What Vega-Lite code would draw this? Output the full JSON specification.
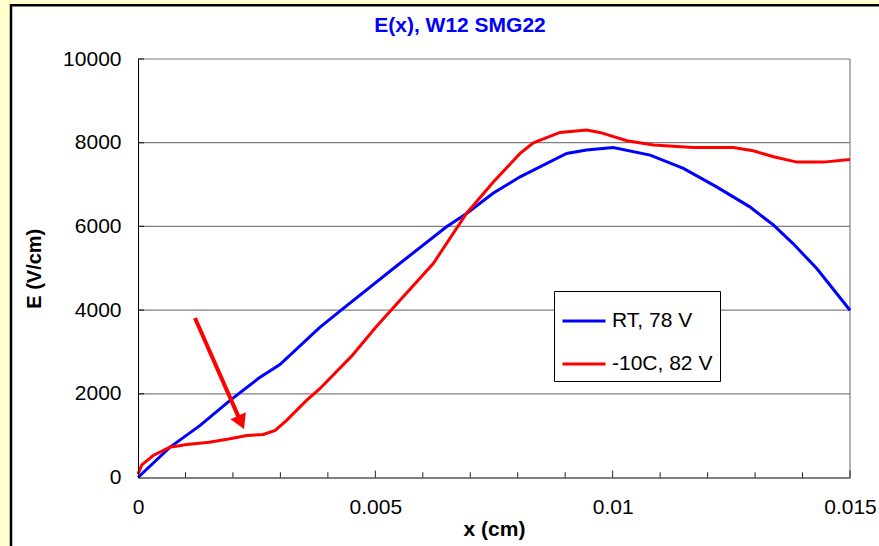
{
  "$schema": "https://vega.github.io/schema/vega-lite/v6.json",
  "width": 712,
  "height": 418.5,
  "autosize": {"type": "none"},
  "padding": {"left": 138, "top": 59, "right": 29, "bottom": 68.5},
  "background": "#FFFFCC",
  "title": {
    "text": "E(x), W12 SMG22",
    "color": "#0000FF",
    "font": "Liberation Sans",
    "fontSize": 21,
    "fontWeight": "bold",
    "anchor": "middle",
    "frame": "group",
    "dx": -34,
    "offset": -32
  },
  "config": {
    "view": {"stroke": null},
    "font": "Liberation Sans",
    "axis": {
      "labelFont": "Liberation Sans",
      "labelFontSize": 21,
      "labelColor": "black",
      "titleFont": "Liberation Sans",
      "titleFontWeight": "bold",
      "titleColor": "black",
      "domainColor": "black",
      "domainWidth": 1,
      "grid": false,
      "ticks": false,
      "labelOverlap": false
    },
    "axisX": {"labelPadding": 19, "titlePadding": 1, "titleFontSize": 21, "labelFlush": false},
    "axisY": {"labelPadding": 17, "titlePadding": 18, "titleFontSize": 20}
  },
  "layer": [
    {
      "description": "chart frame: white panel with black border",
      "data": {"values": [{}]},
      "mark": {"type": "rect", "fill": "white", "stroke": "black", "strokeWidth": 2.5},
      "encoding": {
        "x": {"datum": -0.0026755, "type": "quantitative", "scale": {"domain": [0, 0.015], "nice": false, "zero": false}, "axis": {"zindex": 1}},
        "x2": {"datum": 0.02},
        "y": {"datum": 11283, "type": "quantitative", "scale": {"domain": [0, 10000], "nice": false}, "axis": {"zindex": 1}},
        "y2": {"datum": -3000}
      }
    },
    {
      "description": "horizontal gridlines",
      "data": {"values": [{"E": 2000}, {"E": 4000}, {"E": 6000}, {"E": 8000}, {"E": 10000}]},
      "mark": {"type": "rule", "color": "#808080", "strokeWidth": 1.2},
      "encoding": {
        "y": {"field": "E", "type": "quantitative", "title": "E (V/cm)", "axis": {"zindex": 1}}
      }
    },
    {
      "description": "right edge of the plot area",
      "data": {"values": [{}]},
      "mark": {"type": "rule", "color": "#808080", "strokeWidth": 1.2},
      "encoding": {
        "x": {"datum": 0.015, "type": "quantitative", "axis": {"zindex": 1}},
        "y": {"datum": 0, "type": "quantitative", "axis": {"zindex": 1}},
        "y2": {"datum": 10000}
      }
    },
    {
      "description": "minor x ticks, pointing into the plot",
      "data": {"values": [{"x": 0.001}, {"x": 0.002}, {"x": 0.003}, {"x": 0.004}, {"x": 0.006}, {"x": 0.007}, {"x": 0.008}, {"x": 0.009}, {"x": 0.011}, {"x": 0.012}, {"x": 0.013}, {"x": 0.014}]},
      "mark": {"type": "rule", "color": "#222222", "strokeWidth": 1},
      "encoding": {
        "x": {"field": "x", "type": "quantitative", "title": "x (cm)", "axis": {"zindex": 1}},
        "y": {"datum": 0, "type": "quantitative"},
        "y2": {"datum": 125}
      }
    },
    {
      "description": "major x ticks, pointing into the plot",
      "data": {"values": [{"x": 0.005}, {"x": 0.01}, {"x": 0.015}]},
      "mark": {"type": "rule", "color": "#222222", "strokeWidth": 1},
      "encoding": {
        "x": {"field": "x", "type": "quantitative", "title": "x (cm)", "axis": {"zindex": 1}},
        "y": {"datum": 0, "type": "quantitative"},
        "y2": {"datum": 165}
      }
    },
    {
      "description": "y ticks, pointing into the plot",
      "data": {"values": [{"E": 2000}, {"E": 4000}, {"E": 6000}, {"E": 8000}, {"E": 10000}]},
      "mark": {"type": "rule", "color": "#222222", "strokeWidth": 1.2},
      "encoding": {
        "y": {"field": "E", "type": "quantitative", "title": "E (V/cm)", "axis": {"zindex": 1}},
        "x": {"datum": 0, "type": "quantitative"},
        "x2": {"datum": 0.00013}
      }
    },
    {
      "description": "field profiles",
      "data": {
        "values": [
          {"series": "RT, 78 V", "x": 0, "E": 0},
          {"series": "RT, 78 V", "x": 0.00067, "E": 720},
          {"series": "RT, 78 V", "x": 0.00131, "E": 1244},
          {"series": "RT, 78 V", "x": 0.00194, "E": 1842},
          {"series": "RT, 78 V", "x": 0.00254, "E": 2370},
          {"series": "RT, 78 V", "x": 0.00299, "E": 2700},
          {"series": "RT, 78 V", "x": 0.00383, "E": 3589},
          {"series": "RT, 78 V", "x": 0.00428, "E": 4000},
          {"series": "RT, 78 V", "x": 0.00552, "E": 5120},
          {"series": "RT, 78 V", "x": 0.0065, "E": 5990},
          {"series": "RT, 78 V", "x": 0.00693, "E": 6316},
          {"series": "RT, 78 V", "x": 0.00748, "E": 6790},
          {"series": "RT, 78 V", "x": 0.00805, "E": 7185},
          {"series": "RT, 78 V", "x": 0.00903, "E": 7743},
          {"series": "RT, 78 V", "x": 0.00945, "E": 7823},
          {"series": "RT, 78 V", "x": 0.01001, "E": 7887},
          {"series": "RT, 78 V", "x": 0.01079, "E": 7703},
          {"series": "RT, 78 V", "x": 0.01149, "E": 7385},
          {"series": "RT, 78 V", "x": 0.01219, "E": 6945},
          {"series": "RT, 78 V", "x": 0.01289, "E": 6467},
          {"series": "RT, 78 V", "x": 0.01339, "E": 6029},
          {"series": "RT, 78 V", "x": 0.0138, "E": 5590},
          {"series": "RT, 78 V", "x": 0.0143, "E": 4992},
          {"series": "RT, 78 V", "x": 0.015, "E": 3995},
          {"series": "-10C, 82 V", "x": 0, "E": 80},
          {"series": "-10C, 82 V", "x": 0.00008, "E": 300},
          {"series": "-10C, 82 V", "x": 0.00032, "E": 526},
          {"series": "-10C, 82 V", "x": 0.00067, "E": 725},
          {"series": "-10C, 82 V", "x": 0.00103, "E": 790},
          {"series": "-10C, 82 V", "x": 0.0015, "E": 840},
          {"series": "-10C, 82 V", "x": 0.00194, "E": 925},
          {"series": "-10C, 82 V", "x": 0.00229, "E": 1005},
          {"series": "-10C, 82 V", "x": 0.00264, "E": 1029},
          {"series": "-10C, 82 V", "x": 0.00289, "E": 1124},
          {"series": "-10C, 82 V", "x": 0.00313, "E": 1364},
          {"series": "-10C, 82 V", "x": 0.00355, "E": 1842},
          {"series": "-10C, 82 V", "x": 0.00383, "E": 2121},
          {"series": "-10C, 82 V", "x": 0.0045, "E": 2900},
          {"series": "-10C, 82 V", "x": 0.005, "E": 3580},
          {"series": "-10C, 82 V", "x": 0.00552, "E": 4234},
          {"series": "-10C, 82 V", "x": 0.00622, "E": 5112},
          {"series": "-10C, 82 V", "x": 0.00692, "E": 6308},
          {"series": "-10C, 82 V", "x": 0.00749, "E": 7066},
          {"series": "-10C, 82 V", "x": 0.00805, "E": 7743},
          {"series": "-10C, 82 V", "x": 0.00833, "E": 7998},
          {"series": "-10C, 82 V", "x": 0.00889, "E": 8246},
          {"series": "-10C, 82 V", "x": 0.00945, "E": 8301},
          {"series": "-10C, 82 V", "x": 0.00973, "E": 8246},
          {"series": "-10C, 82 V", "x": 0.0103, "E": 8046},
          {"series": "-10C, 82 V", "x": 0.01086, "E": 7943},
          {"series": "-10C, 82 V", "x": 0.0117, "E": 7887},
          {"series": "-10C, 82 V", "x": 0.01254, "E": 7887},
          {"series": "-10C, 82 V", "x": 0.01296, "E": 7807},
          {"series": "-10C, 82 V", "x": 0.01339, "E": 7663},
          {"series": "-10C, 82 V", "x": 0.01388, "E": 7536},
          {"series": "-10C, 82 V", "x": 0.01444, "E": 7536},
          {"series": "-10C, 82 V", "x": 0.015, "E": 7600}
        ]
      },
      "mark": {"type": "line", "strokeWidth": 3},
      "encoding": {
        "x": {
          "field": "x",
          "type": "quantitative",
          "title": "x (cm)",
          "scale": {"domain": [0, 0.015], "nice": false, "zero": false},
          "axis": {
            "zindex": 1,
            "values": [0, 0.005, 0.01, 0.015],
            "format": ".3~f"
          }
        },
        "y": {
          "field": "E",
          "type": "quantitative",
          "title": "E (V/cm)",
          "scale": {"domain": [0, 10000], "nice": false},
          "axis": {"zindex": 1, "values": [0, 2000, 4000, 6000, 8000, 10000], "format": "d"}
        },
        "color": {
          "field": "series",
          "type": "nominal",
          "scale": {"domain": ["RT, 78 V", "-10C, 82 V"], "range": ["#0000FF", "#FF0000"]},
          "legend": {
            "title": null,
            "orient": "none",
            "legendX": 416,
            "legendY": 232,
            "symbolType": "stroke",
            "symbolSize": 1849,
            "symbolStrokeWidth": 3,
            "labelFont": "Liberation Sans",
            "labelFontSize": 21,
            "labelColor": "black",
            "labelOffset": 5,
            "strokeColor": "black",
            "fillColor": "white",
            "padding": 7,
            "rowPadding": 10,
            "zindex": 1
          }
        }
      }
    },
    {
      "description": "annotation arrow shaft",
      "data": {"values": [{}]},
      "mark": {"type": "rule", "color": "#FF0000", "strokeWidth": 4},
      "encoding": {
        "x": {"datum": 0.0012, "type": "quantitative"},
        "y": {"datum": 3812, "type": "quantitative"},
        "x2": {"datum": 0.00217},
        "y2": {"datum": 1317}
      }
    },
    {
      "description": "annotation arrow head",
      "data": {"values": [{}]},
      "mark": {"type": "point", "shape": "triangle-down", "filled": true, "color": "#FF0000", "opacity": 1, "size": 280, "angle": -24},
      "encoding": {
        "x": {"datum": 0.002172, "type": "quantitative"},
        "y": {"datum": 1317, "type": "quantitative"}
      }
    }
  ]
}
